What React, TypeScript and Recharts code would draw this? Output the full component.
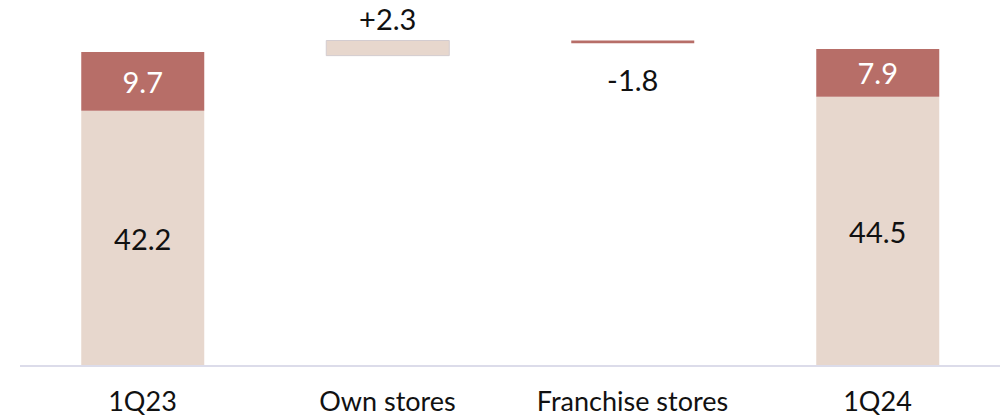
import React from "react";
import { BarChart, Bar, XAxis, YAxis, LabelList, Cell } from "recharts";

const categories = ["1Q23", "Own stores", "Franchise stores", "1Q24"];
// invisible offset under floating bars
const baseValues = [0, 51.3, 53.35, 0];
// beige segment (store base / positive delta)
const beigeValues = [42.2, 2.5, 0, 44.5];
// red segment (top part / negative delta)
const redValues = [9.7, 0, 0.45, 7.9];
const beigeLabels = ["42.2", "+2.3", "", "44.5"];
const redLabels = ["9.7", "", "-1.8", "7.9"];

const data = categories.map((name, i) => ({
  name,
  base: baseValues[i],
  beige: beigeValues[i],
  red: redValues[i],
  beigeLabel: beigeLabels[i],
  redLabel: redLabels[i],
}));

const FONT = "Lato, 'Open Sans', sans-serif";
const BEIGE = "#e7d7cd";
const RED = "#b76e68";

const BeigeLabel = (props: any) => {
  const { x, y, width, height, value } = props;
  const t = String(value ?? "");
  if (!t) return null;
  const isDelta = t.startsWith("+");
  const cx = x + width / 2;
  const cy = isDelta ? y - 22 : y + height / 2;
  return (
    <text x={cx} y={cy} textAnchor="middle" dominantBaseline="central" fontFamily={FONT} fontSize={29} fill="#111">
      {t}
    </text>
  );
};

const RedLabel = (props: any) => {
  const { x, y, width, height, value } = props;
  const t = String(value ?? "");
  if (!t) return null;
  const isDelta = t.startsWith("-");
  const cx = x + width / 2;
  const cy = isDelta ? y + height + 36 : y + height / 2;
  return (
    <text x={cx} y={cy} textAnchor="middle" dominantBaseline="central" fontFamily={FONT} fontSize={29} fill={isDelta ? "#111" : "#fff"}>
      {t}
    </text>
  );
};

export default function App() {
  return (
    <div style={{ position: "absolute", left: 0, top: 0, background: "#fff" }}>
      <BarChart
        width={1003}
        height={417}
        data={data}
        margin={{ top: 3, right: 3, bottom: 0, left: 20 }}
        barCategoryGap="25%"
      >
        <XAxis
          dataKey="name"
          axisLine={{ stroke: "#dcdcea", strokeWidth: 2 }}
          tickLine={false}
          tickMargin={20}
          height={51}
          interval={0}
          tick={{ fontFamily: FONT, fontSize: 27, fill: "#111" }}
        />
        <YAxis hide domain={[0, 60]} />
        <Bar dataKey="base" stackId="a" fill="transparent" isAnimationActive={false} />
        <Bar dataKey="beige" stackId="a" fill={BEIGE} isAnimationActive={false}>
          {data.map((d, i) => (
            <Cell key={i} fill={BEIGE} stroke={d.beigeLabel.startsWith("+") ? "#d3ccd0" : "none"} strokeWidth={1} />
          ))}
          <LabelList dataKey="beigeLabel" content={BeigeLabel} />
        </Bar>
        <Bar dataKey="red" stackId="a" fill={RED} isAnimationActive={false}>
          <LabelList dataKey="redLabel" content={RedLabel} />
        </Bar>
      </BarChart>
    </div>
  );
}
